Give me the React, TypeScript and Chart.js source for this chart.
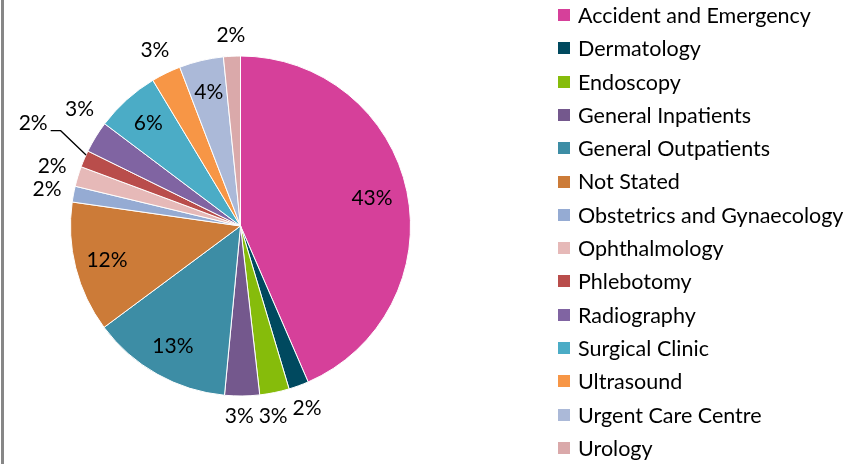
import React, { useEffect, useRef } from "react";
import { Chart, registerables } from "chart.js";

Chart.register(...registerables);

const categories = [
  "Accident and Emergency",
  "Dermatology",
  "Endoscopy",
  "General Inpatients",
  "General Outpatients",
  "Not Stated",
  "Obstetrics and Gynaecology",
  "Ophthalmology",
  "Phlebotomy",
  "Radiography",
  "Surgical Clinic",
  "Ultrasound",
  "Urgent Care Centre",
  "Urology",
];

// share of attendances (%)
const shares = [43.4, 1.9, 2.8, 3.3, 13.3, 12.4, 1.5, 1.9, 1.6, 3.0, 6.1, 2.8, 4.2, 1.6];

const colors = [
  "#D6409A",
  "#00495F",
  "#86BC0B",
  "#74588D",
  "#3D8DA5",
  "#CC7B38",
  "#95ABD3",
  "#E6B9B8",
  "#B94D4B",
  "#8064A2",
  "#4BACC6",
  "#F79646",
  "#ABB9D8",
  "#DAA9AA",
];

// slices whose label is moved away and joined by a leader line
const leaderLabels = ["Phlebotomy"];

const FONT = "Lato, 'Open Sans', sans-serif";
const LABEL_SIZE = 21;
const LEGEND_SIZE = 21.5;

const framePlugin = {
  id: "frame",
  beforeDraw(chart: any) {
    const ctx = chart.ctx;
    ctx.save();
    ctx.fillStyle = "#ffffff";
    ctx.fillRect(0, 0, chart.width, chart.height);
    ctx.fillStyle = "#878787";
    ctx.fillRect(1, 0, 3, chart.height);
    ctx.restore();
  },
};

type Box = { l: number; r: number; t: number; b: number };

const labelPlugin = {
  id: "pieLabels",
  afterDatasetsDraw(chart: any) {
    const ctx = chart.ctx;
    const meta = chart.getDatasetMeta(0);
    const data = chart.data.datasets[0].data as number[];
    const labels = chart.data.labels as string[];
    const total = data.reduce((a, b) => a + b, 0);
    ctx.save();
    ctx.font = `${LABEL_SIZE}px ${FONT}`;
    ctx.fillStyle = "#000";
    ctx.textAlign = "center";
    ctx.textBaseline = "middle";
    const placed: Box[] = [];
    const pad = 4;
    const hits = (bx: Box) =>
      placed.some(
        (p) => bx.l < p.r + pad && bx.r > p.l - pad && bx.t < p.b + pad && bx.b > p.t - pad
      );
    meta.data.forEach((arc: any, i: number) => {
      const { x, y, startAngle, endAngle, outerRadius } = arc.getProps(
        ["x", "y", "startAngle", "endAngle", "outerRadius"],
        true
      );
      const pct = Math.round((data[i] / total) * 100);
      const text = pct + "%";
      const hw = ctx.measureText(text).width / 2;
      const hh = 9;
      const mid = (startAngle + endAngle) / 2;
      const c = Math.cos(mid);
      const s = Math.sin(mid);
      if (pct >= 4) {
        const f = pct > 30 ? 0.79 : 0.81;
        ctx.fillText(text, x + c * outerRadius * f, y + s * outerRadius * f);
        return;
      }
      if (leaderLabels.includes(labels[i])) {
        const a2 = mid + (3 * Math.PI) / 180;
        const lx = x + Math.cos(a2) * outerRadius * 1.36;
        const ly = y + Math.sin(a2) * outerRadius * 1.36;
        ctx.fillText(text, lx, ly);
        const sx = lx + hw + 3;
        const sy = ly + 7;
        const ea = startAngle + 0.75 * (endAngle - startAngle);
        ctx.beginPath();
        ctx.strokeStyle = "#000";
        ctx.lineWidth = 1.3;
        ctx.moveTo(sx, sy);
        ctx.lineTo(sx + 10, sy);
        ctx.lineTo(x + Math.cos(ea) * outerRadius, y + Math.sin(ea) * outerRadius);
        ctx.stroke();
        placed.push({ l: lx - hw, r: sx + 10, t: ly - hh, b: ly + hh });
        return;
      }
      const d = outerRadius + 11 + Math.abs(c) * hw + Math.abs(s) * hh;
      let lx = x + c * d;
      let ly = y + s * d;
      // tangential (clockwise) direction used to slide a label off its neighbour
      const tx = -s;
      const ty = c;
      let guard = 0;
      while (hits({ l: lx - hw, r: lx + hw, t: ly - hh, b: ly + hh }) && guard < 80) {
        lx += tx;
        ly += ty;
        guard++;
      }
      placed.push({ l: lx - hw, r: lx + hw, t: ly - hh, b: ly + hh });
      ctx.fillText(text, lx, ly);
    });
    ctx.restore();
  },
};

const legendPlugin = {
  id: "sideLegend",
  afterDraw(chart: any) {
    const ctx = chart.ctx;
    const labels = chart.data.labels as string[];
    const bg = chart.data.datasets[0].backgroundColor as string[];
    ctx.save();
    ctx.font = `${LEGEND_SIZE}px ${FONT}`;
    ctx.textAlign = "left";
    ctx.textBaseline = "middle";
    labels.forEach((lab, i) => {
      const cy = 15 + i * 33.3;
      ctx.fillStyle = bg[i];
      ctx.fillRect(558, Math.round(cy - 6), 12, 12);
      ctx.fillStyle = "#000";
      ctx.fillText(lab, 578, cy + 1);
    });
    ctx.restore();
  },
};

export default function App() {
  const ref = useRef<HTMLCanvasElement | null>(null);
  useEffect(() => {
    if (!ref.current) return;
    const chart = new Chart(ref.current, {
      type: "pie",
      data: {
        labels: categories,
        datasets: [
          {
            data: shares,
            backgroundColor: colors,
            borderColor: "#ffffff",
            borderWidth: 1,
          },
        ],
      },
      options: {
        animation: false,
        responsive: true,
        maintainAspectRatio: false,
        layout: { padding: { left: 70, top: 55.5, right: 442, bottom: 67.5 } },
        plugins: {
          legend: { display: false },
          tooltip: { enabled: false },
        },
      },
      plugins: [framePlugin, labelPlugin, legendPlugin],
    });
    return () => chart.destroy();
  }, []);
  return (
    <div style={{ position: "absolute", left: 0, top: 0, width: 853, height: 464, background: "#fff" }}>
      <canvas ref={ref} />
    </div>
  );
}
